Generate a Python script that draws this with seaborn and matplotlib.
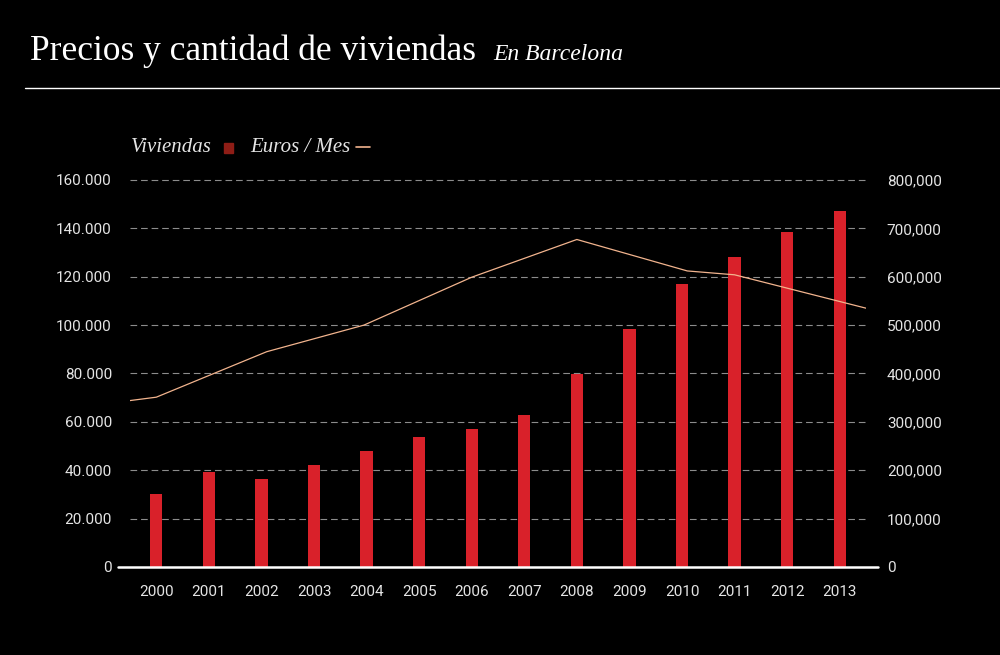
import numpy as np
import matplotlib
matplotlib.use("Agg")
import matplotlib.pyplot as plt
import seaborn as sns
from matplotlib.lines import Line2D
from matplotlib.ticker import FuncFormatter

# -----------------------------
# Datos
# -----------------------------
years = [2000, 2001, 2002, 2003, 2004, 2005, 2006, 2007,
         2008, 2009, 2010, 2011, 2012, 2013]
viviendas = [30200, 39400, 36400, 42100, 48000, 53900, 57100, 62800,
             79700, 98500, 116800, 128000, 138600, 147200]

# precio (eje derecho), vértices de la línea
price_years = [1999.5, 2000, 2002.1, 2003.95, 2006, 2008, 2010.1, 2011, 2013.5]
price_values = [344000, 351000, 445000, 500000, 599000, 677000, 612000, 604000, 535000]

left_ticks = [0, 20000, 40000, 60000, 80000, 100000, 120000, 140000, 160000]
right_ticks = [0, 100000, 200000, 300000, 400000, 500000, 600000, 700000, 800000]

# -----------------------------
# Estilo
# -----------------------------
sns.set_theme(style="dark")
plt.rcParams['font.family'] = ['Roboto', 'DejaVu Sans']
BG = "#000000"
TXT = "#e4e4e4"
BAR = "#d9212a"
LINE = "#f2b48e"
SERIF = ['Liberation Serif', 'DejaVu Serif']

fig = plt.figure(figsize=(10, 6.55), dpi=100, facecolor=BG)
ax = fig.add_axes([0.130, 0.1344, 0.736, 0.5908])
ax.set_facecolor(BG)

sns.barplot(x=years, y=viviendas, color=BAR, width=0.235, saturation=1,
            edgecolor=BAR, linewidth=0, ax=ax, zorder=3)

ax2 = ax.twinx()
sns.lineplot(x=np.array(price_years) - 2000, y=price_values, color=LINE,
             linewidth=0.9, ax=ax2, zorder=4)

ax.set_xlim(-0.5, len(years) - 0.5)
ax.set_ylim(0, 160000)
ax2.set_ylim(0, 800000)
ax.set_yticks(left_ticks)
ax2.set_yticks(right_ticks)
ax.yaxis.set_major_formatter(FuncFormatter(lambda v, p: f"{int(v):,}".replace(",", ".")))
ax2.yaxis.set_major_formatter(FuncFormatter(lambda v, p: f"{int(v):,}"))

ax.grid(False)
ax2.grid(False)
for y in left_ticks[1:]:
    ax.axhline(y, color="#8c8c8c", linewidth=0.8, linestyle=(0, (6, 3.5)), zorder=1,
               clip_on=False)

for a in (ax, ax2):
    for s in a.spines.values():
        s.set_visible(False)
    a.set_xlabel("")
    a.set_ylabel("")

ax.tick_params(axis='y', length=0, pad=13, labelsize=11, labelcolor=TXT)
ax2.tick_params(axis='y', length=0, pad=15, labelsize=11, labelcolor=TXT)
ax.tick_params(axis='x', length=0, pad=13, labelsize=11, labelcolor=TXT)

# línea base
ax.add_line(Line2D([-0.0163, 1.0163], [0, 0], transform=ax.transAxes,
                   color="white", linewidth=1.8, clip_on=False, zorder=5))

# -----------------------------
# Título y leyenda
# -----------------------------
fig.text(0.030, 1 - 60 / 655, "Precios y cantidad de viviendas", family=SERIF,
         fontsize=25.5, color="white", va="baseline")
fig.text(0.493, 1 - 60 / 655, "En Barcelona", family=SERIF, style="italic",
         fontsize=17, color="white", va="baseline")
fig.add_artist(Line2D([0.025, 1.0], [1 - 88 / 655, 1 - 88 / 655],
                      color="white", linewidth=1.0))

ly = 1 - 152 / 655
fig.text(0.131, ly, "Viviendas", family=SERIF, style="italic", fontsize=15,
         color=TXT, va="baseline")
fig.add_artist(plt.Rectangle((0.224, 1 - 153 / 655), 0.009, 10 / 655,
                             color="#8e1d16", transform=fig.transFigure))
fig.text(0.250, ly, "Euros / Mes", family=SERIF, style="italic", fontsize=15,
         color=TXT, va="baseline")
fig.add_artist(Line2D([0.356, 0.370], [1 - 147 / 655, 1 - 147 / 655],
                      color=LINE, linewidth=1.2))

fig.savefig("out.png", dpi=100, facecolor=BG)
